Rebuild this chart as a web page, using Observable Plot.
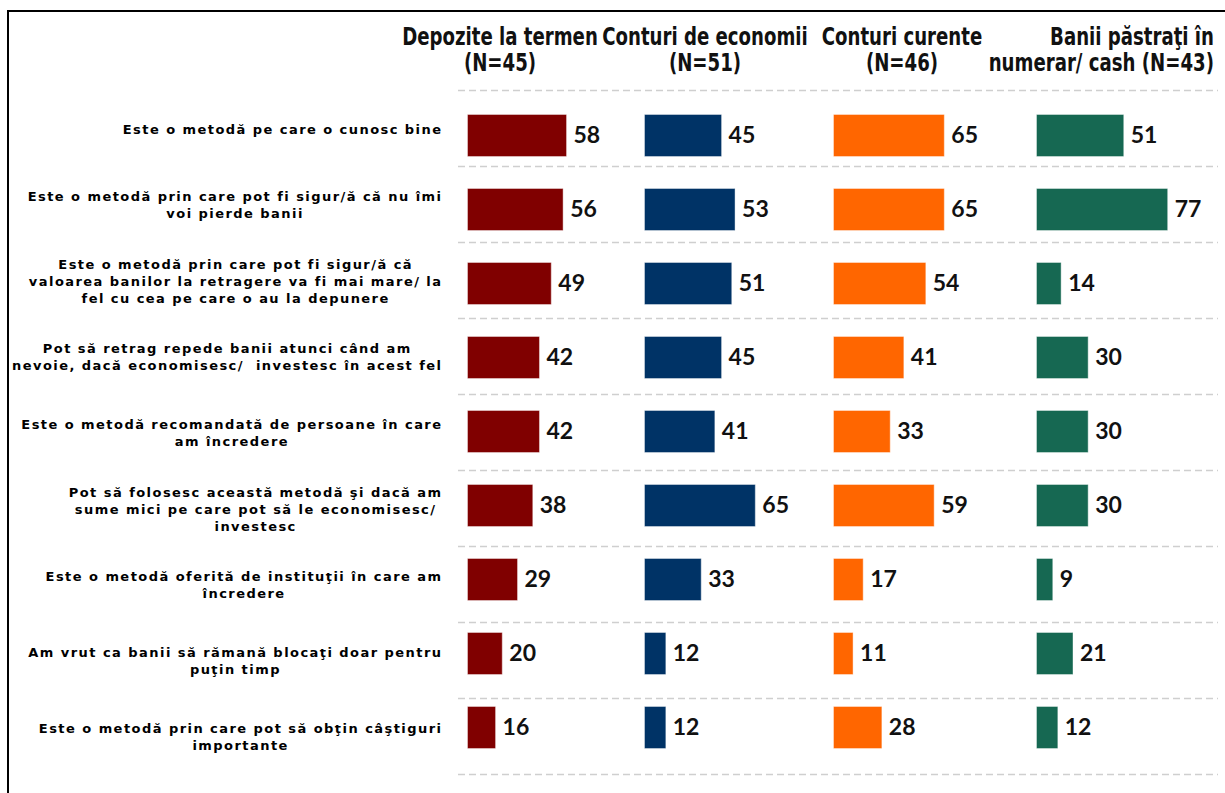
<!DOCTYPE html>
<html><head><meta charset="utf-8">
<script src="https://cdn.jsdelivr.net/npm/d3@7"></script>
<script src="https://cdn.jsdelivr.net/npm/@observablehq/plot@0.6"></script>
<style>
html,body{margin:0;padding:0;background:#fff;}
#wrap{position:relative;width:1225px;height:793px;overflow:hidden;background:#fff;}
.frame{position:absolute;left:7px;top:10px;width:1240px;height:800px;border-top:2px solid #000;border-left:2px solid #000;box-sizing:border-box;}
.head{position:absolute;top:24px;width:300px;font-family:'DejaVu Sans Condensed','Liberation Sans Narrow',sans-serif;font-weight:bold;font-size:24px;line-height:26px;color:#111;white-space:pre;}
.plot{position:absolute;top:0;}
</style></head><body><div id="wrap"><div class="frame"></div></div>
<script>
const categories = [
  "Este o metodă pe care o cunosc bine",
  "Este o metodă prin care pot fi sigur/ă că nu îmi\nvoi pierde banii",
  "Este o metodă prin care pot fi sigur/ă că\nvaloarea banilor la retragere va fi mai mare/ la\nfel cu cea pe care o au la depunere",
  "Pot să retrag repede banii atunci când am\nnevoie, dacă economisesc/  investesc în acest fel",
  "Este o metodă recomandată de persoane în care\nam încredere",
  "Pot să folosesc această metodă şi dacă am\nsume mici pe care pot să le economisesc/\ninvestesc",
  "Este o metodă oferită de instituţii în care am\nîncredere",
  "Am vrut ca banii să rămană blocaţi doar pentru\npuţin timp",
  "Este o metodă prin care pot să obţin câştiguri\nimportante"
];
const seriesNames = [
  "Depozite la termen\n(N=45)",
  "Conturi de economii\n(N=51)",
  "Conturi curente\n(N=46)",
  "Banii păstraţi în\nnumerar/ cash (N=43)"
];
const depozite = [58, 56, 49, 42, 42, 38, 29, 20, 16];
const economii = [45, 53, 51, 45, 41, 65, 33, 12, 12];
const curente  = [65, 65, 54, 41, 33, 59, 17, 11, 28];
const cash     = [51, 77, 14, 30, 30, 30, 9, 21, 12];
const colors = ["#800000", "#003366", "#ff6600", "#166852"];
const seriesValues = [depozite, economii, curente, cash];

const wrap = document.getElementById("wrap");
const H = 793;

// headers (layout only)
const headPos = [{c: 500}, {c: 705}, {c: 902}, {r: 1214}];
seriesNames.forEach((name, j) => {
  const d = document.createElement("div");
  d.className = "head";
  d.textContent = name;
  const p = headPos[j];
  if (p.r !== undefined) {
    d.style.left = (p.r - 300) + "px"; d.style.textAlign = "right"; d.style.transformOrigin = "right center";
  } else {
    d.style.left = (p.c - 150) + "px"; d.style.textAlign = "center"; d.style.transformOrigin = "center center";
  }
  d.style.transform = "scaleX(0.84)";
  wrap.appendChild(d);
});

// labels + dashed separators
const labelPlot = Plot.plot({
  width: 1225, height: H,
  marginLeft: 458, marginRight: 7, marginTop: 90, marginBottom: 19,
  x: {axis: null},
  y: {type: "band", domain: categories, padding: 0, axis: null},
  style: {background: "transparent", letterSpacing: "1.45px"},
  marks: [
    Plot.ruleY(categories, {y: d => d, dy: -38, stroke: "#cfcfcf", strokeWidth: 1.6, strokeDasharray: "7,4"}),
    Plot.ruleY([categories[categories.length - 1]], {y: d => d, dy: 38, stroke: "#cfcfcf", strokeWidth: 1.6, strokeDasharray: "7,4"}),
    Plot.text(categories, {y: d => d, text: d => d, frameAnchor: "left", dx: -16, textAnchor: "end", lineAnchor: "middle",
      fontSize: 13, fontWeight: "bold", fontFamily: "DejaVu Sans", lineHeight: 1.31, fill: "#000", className: "lbl"})
  ]
});
labelPlot.classList.add("plot");
labelPlot.style.left = "0px";
wrap.appendChild(labelPlot);

// center each label's lines within its right-aligned block
labelPlot.querySelectorAll(".lbl text").forEach(t => {
  const w = t.getBBox().width;
  t.setAttribute("text-anchor", "middle");
  const tr = t.getAttribute("transform") || "";
  t.setAttribute("transform", tr + ` translate(${-w / 2},0)`);
});

// bar panels
const k = 1.69;
const panelStarts = [468, 645, 834, 1037];
seriesValues.forEach((vals, j) => {
  const W = 180;
  const data = categories.map((c, i) => ({cat: c, v: vals[i]}));
  const p = Plot.plot({
    width: W, height: H,
    marginLeft: 0, marginRight: 0, marginTop: 98, marginBottom: 29,
    x: {domain: [0, W / k], axis: null},
    y: {type: "band", domain: categories, paddingInner: 0.446, paddingOuter: 0.223, axis: null},
    style: {background: "transparent", overflow: "visible"},
    marks: [
      Plot.barX(data, {x: "v", y: "cat", fill: colors[j], stroke: colors[j], strokeOpacity: 0.6, strokeWidth: 1}),
      Plot.text(data, {x: "v", y: "cat", text: d => String(d.v), dx: 7, textAnchor: "start",
        fontSize: 23, fontWeight: "bold", fontFamily: "Lato", fill: "#111"})
    ]
  });
  p.classList.add("plot");
  p.style.left = panelStarts[j] + "px";
  wrap.appendChild(p);
});
</script>
</body></html>
